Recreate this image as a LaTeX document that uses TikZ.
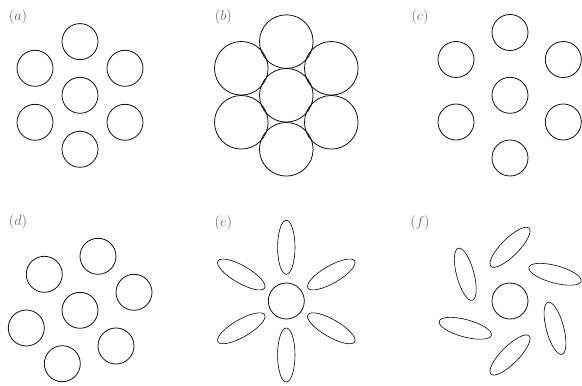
\documentclass[tikz,border=0pt]{standalone}
\begin{document}
\begin{tikzpicture}[x=1pt, y=1pt,
    disc/.style={draw, line width=0.75pt},
    petal/.style={draw, line width=0.6pt},
    tag/.style={text=black!60, inner sep=0pt, font=\fontsize{14}{16}\selectfont}
]
\useasboundingbox (0,0) rectangle (582,386);

% (a) kleine Kreise, hexagonal
\node[tag] (taga) at (18,369) {$(a)$};
\begin{scope}[shift={(80,290.7)}]
\foreach \dx/\dy in {0/0, 0/53.7, 45/27, 45/-27, 0/-54, -45/-27, -45/27}
    \draw[disc] (\dx,\dy) circle[radius=18];
\end{scope}

% (b) grosse Kreise, dicht gepackt
\node[tag] (tagb) at (223.3,369) {$(b)$};
\begin{scope}[shift={(286.3,290.7)}]
\foreach \dx/\dy in {0/0, 0/53.7, 45/27, 45/-27, 0/-54, -45/-27, -45/27}
    \draw[disc] (\dx,\dy) circle[radius=26.8];
\end{scope}

% (c) gestoerte Anordnung
\node[tag] (tagc) at (420,369) {$(c)$};
\begin{scope}[shift={(510,290.7)}]
\foreach \dx/\dy in {0/0, 0/62.8, 53.3/35.8, 53.3/-26.7, 0/-62.7, -54/-26.7, -54/35.8}
    \draw[disc] (\dx,\dy) circle[radius=18];
\end{scope}

% (d) gedrehte Anordnung
\node[tag] (tagd) at (18,163.7) {$(d)$};
\begin{scope}[shift={(80,75.7)}]
\foreach \dx/\dy in {0/0, -35.7/36, 18/54, 54/18, 36/-35.7, -17.7/-53.4, -53.7/-17.7}
    \draw[disc] (\dx,\dy) circle[radius=18];
\end{scope}

% (e) Ellipsen radial
\node[tag] (tage) at (223.3,162.7) {$(e)$};
\begin{scope}[shift={(286.3,85)}]
\draw[disc] (0,0) circle[radius=18];
\foreach \dx/\dy/\ang in {0/53.7/90, 45/26.5/30, 45/-27.3/-30, 0/-54/-90, -45/-27.3/-150, -45/26.5/150}
    \draw[petal, rotate around={\ang:(\dx,\dy)}] (\dx,\dy) ellipse[x radius=27, y radius=8.7];
\end{scope}

% (f) Ellipsen um 45 Grad gedreht
\node[tag] (tagf) at (420,162.7) {$(f)$};
\begin{scope}[shift={(510,85)}]
\draw[disc] (0,0) circle[radius=18];
\foreach \dx/\dy/\ang in {0/53.7/45, 45/26.7/-15, 45/-27.3/-75, 0/-54/-135, -44.7/-27.3/-195, -44.7/26.7/105}
    \draw[petal, rotate around={\ang:(\dx,\dy)}] (\dx,\dy) ellipse[x radius=27, y radius=8.7];
\end{scope}

\end{tikzpicture}
\end{document}
